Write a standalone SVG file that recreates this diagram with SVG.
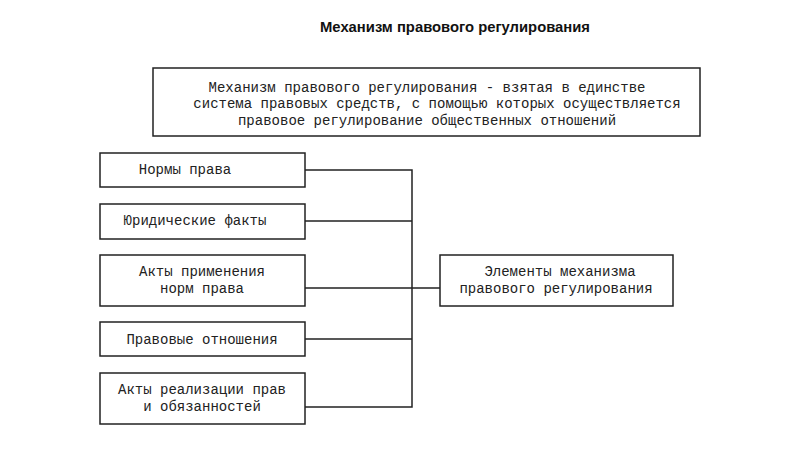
<svg xmlns="http://www.w3.org/2000/svg" width="809" height="462" viewBox="0 0 809 462">
<style>
.b{fill:#fff;stroke:#222;stroke-width:1.5}
.t{font-family:"Liberation Mono",monospace;font-size:14px;fill:#222;text-anchor:middle}
.c{stroke:#222;stroke-width:1.5;fill:none}
</style>
<rect width="809" height="462" fill="#fff"/>
<text x="455" y="32" font-family="Liberation Sans,Arial,sans-serif" font-size="14.8" font-weight="bold" text-anchor="middle" fill="#111">Механизм правового регулирования</text>
<g id="def"><rect class="b" x="153" y="68" width="547" height="68"/>
<text class="t" x="427" y="92">Механизм правового регулирования - взятая в единстве</text>
<text class="t" x="437" y="108">система правовых средств, с помощью которых осуществляется</text>
<text class="t" x="427" y="125">правовое регулирование общественных отношений</text></g>
<g id="n1"><rect class="b" x="100" y="153" width="205" height="34"/><text class="t" x="185" y="174">Нормы права</text></g>
<g id="n2"><rect class="b" x="100" y="204" width="205" height="35"/><text class="t" x="195" y="225">Юридические факты</text></g>
<g id="n3"><rect class="b" x="100" y="255" width="205" height="51"/><text class="t" x="202" y="276">Акты применения</text><text class="t" x="202" y="293">норм права</text></g>
<g id="n4"><rect class="b" x="100" y="322" width="205" height="34"/><text class="t" x="202" y="344">Правовые отношения</text></g>
<g id="n5"><rect class="b" x="100" y="373" width="205" height="51"/><text class="t" x="202" y="394">Акты реализации прав</text><text class="t" x="202" y="411">и обязанностей</text></g>
<g id="elem"><rect class="b" x="440" y="255" width="233" height="51"/><text class="t" x="560" y="276">Элементы механизма</text><text class="t" x="556" y="293">правового регулирования</text></g>
<g id="connectors">
<path class="c" d="M305 170H412V407H305M305 221H412M305 288H440M305 339H412"/>
</g>
</svg>
